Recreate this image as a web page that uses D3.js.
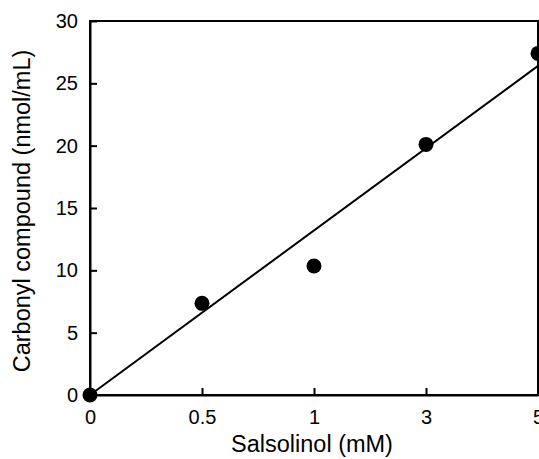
<!DOCTYPE html>
<html>
<head>
<meta charset="utf-8">
<script src="https://cdn.jsdelivr.net/npm/d3@7"></script>
<style>
body { margin: 0; background: #fff; }
svg { display: block; font-family: "Liberation Sans", Arial, sans-serif; }
</style>
</head>
<body>
<svg id="chart" width="539" height="459"></svg>
<script>
// data
var doses = ["0", "0.5", "1", "3", "5"];
var carbonyl = [0, 7.35, 10.35, 20.1, 27.4];
var yTicks = [0, 5, 10, 15, 20, 25, 30];
// fitted line endpoints (dose label, value)
var fitLine = [["0", 0], ["5", 26.4]];

var svg = d3.select("#chart");
var m = {left: 90, right: 1, top: 21, bottom: 64};
var W = +svg.attr("width"), H = +svg.attr("height");

var x = d3.scalePoint().domain(doses).range([m.left, W - m.right]);
var y = d3.scaleLinear().domain([0, 30]).range([H - m.bottom, m.top]);

var g = svg.append("g");

// frame
g.append("rect")
  .attr("x", m.left).attr("y", m.top)
  .attr("width", W - m.right - m.left).attr("height", H - m.bottom - m.top)
  .attr("fill", "none").attr("stroke", "#000").attr("stroke-width", 2);

var yAxis = g.append("g")
  .attr("transform", "translate(" + m.left + ",0)")
  .call(d3.axisLeft(y).tickValues(yTicks).tickSizeInner(-7).tickSizeOuter(0).tickPadding(12));
var xAxis = g.append("g")
  .attr("transform", "translate(0," + (H - m.bottom) + ")")
  .call(d3.axisBottom(x).tickSizeInner(-7).tickSizeOuter(0).tickPadding(15));

[yAxis, xAxis].forEach(function(a) {
  a.select(".domain").attr("stroke-width", 2);
  a.selectAll(".tick line").attr("stroke-width", 2);
  a.selectAll(".tick text").attr("font-size", 20).attr("fill", "#000")
    .attr("font-family", "Liberation Sans, Arial, sans-serif");
});

g.append("line")
  .attr("x1", x(fitLine[0][0])).attr("y1", y(fitLine[0][1]))
  .attr("x2", x(fitLine[1][0])).attr("y2", y(fitLine[1][1]))
  .attr("stroke", "#000").attr("stroke-width", 2);

g.selectAll("circle").data(doses).enter().append("circle")
  .attr("cx", function(d) { return x(d); })
  .attr("cy", function(d, i) { return y(carbonyl[i]); })
  .attr("r", 7.5).attr("fill", "#000");

svg.append("text")
  .attr("x", 312).attr("y", 452)
  .attr("text-anchor", "middle").attr("font-size", 23.5)
  .text("Salsolinol (mM)");

svg.append("text")
  .attr("transform", "translate(30,211) rotate(-90)")
  .attr("text-anchor", "middle").attr("font-size", 23.5)
  .text("Carbonyl compound (nmol/mL)");
</script>
</body>
</html>
